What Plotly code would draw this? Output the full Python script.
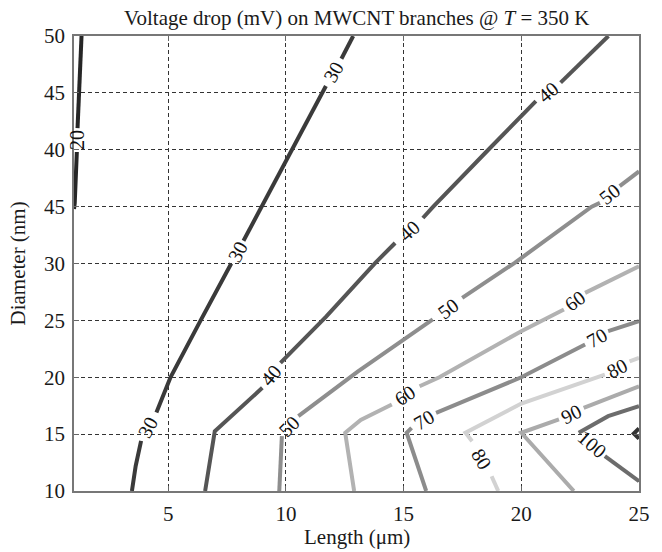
import plotly.graph_objects as go

# Contour paths of the voltage drop (mV) over length (um) and diameter (nm).
# None breaks each path where its inline level label sits.
levels = [20, 30, 40, 50, 60, 70, 80, 90, 100, 110]

c20_x = [1.32, 1.25, 1.20, 1.15, None, 1.12, 1.08, 1.03, 1.00]
c20_y = [50.0, 47.0, 45.0, 41.9, None, 39.8, 37.0, 35.3, 34.8]

c30_x = [3.46, 3.62, 3.85, None, 4.50, 5.10, 6.38, 7.68, None, 8.20, 8.98, 10.25, 11.56, 11.70, None, 12.36, 12.86]
c30_y = [10.0, 12.2, 14.4, None, 16.9, 20.0, 25.0, 30.0, None, 32.0, 35.0, 40.0, 45.0, 45.6, None, 48.0, 50.0]

c40_x = [6.57, 6.76, 6.98, 9.00, None, 9.77, 11.70, 13.80, 14.64, None, 15.82, 16.26, 18.60, 20.62, None, 21.67, 23.62, 23.70]
c40_y = [10.0, 12.5, 15.26, 19.07, None, 21.27, 25.3, 30.06, 31.8, None, 34.0, 35.0, 40.0, 44.27, None, 45.9, 49.84, 50.0]

c50_x = [9.72, 9.78, 9.83, None, 10.53, 13.05, 16.24, None, 17.49, 19.72, 22.99, 23.34, None, 24.18, 25.0]
c50_y = [10.0, 12.5, 14.82, None, 16.58, 20.5, 25.08, None, 26.98, 30.06, 35.0, 35.33, None, 36.8, 38.1]

c60_x = [12.90, 12.72, 12.52, 13.18, 14.50, None, 15.68, 16.52, 20.0, 21.81, None, 22.71, 25.0]
c60_y = [10.0, 12.5, 15.12, 16.25, 17.6, None, 19.21, 20.0, 24.05, 25.96, None, 27.42, 29.76]

c70_x = [15.96, 15.55, 15.13, 15.34, None, 16.38, 20.0, 22.71, None, 23.69, 25.0]
c70_y = [10.0, 12.5, 15.12, 15.55, None, 16.87, 20.0, 22.88, None, 24.05, 24.93]

c80_x = [19.02, 18.74, None, 17.91, 17.63, 20.0, 23.55, None, 24.60, 25.0]
c80_y = [10.0, 11.3, None, 14.38, 15.12, 17.69, 20.24, None, 21.4, 21.7]

c90_x = [22.23, 21.04, 20.0, 21.60, None, 22.65, 25.0]
c90_y = [10.0, 12.77, 15.12, 16.29, None, 17.31, 19.21]

c100_x = [25.0, 23.69, 22.44, None, 23.55, 25.0]
c100_y = [17.46, 16.58, 15.12, None, 13.06, 10.86]

c110_x = [25.0, 24.78, 25.0]
c110_y = [15.5, 15.05, 14.6]

level_colors = ["#262626", "#3a3a3a", "#555555", "#8e8e8e", "#b2b2b2",
                "#8c8c8c", "#d2d2d2", "#ababab", "#6c6c6c", "#333333"]

# Inline contour labels
label_text = ["20", "30", "30", "30", "40", "40", "40", "50", "50", "50",
              "60", "60", "70", "70", "80", "80", "90", "100"]
label_x = [1.12, 4.15, 7.95, 12.03, 9.38, 15.22, 21.15, 10.15, 16.87, 23.76,
           15.08, 22.26, 15.85, 23.2, 18.32, 24.08, 22.12, 23.0]
label_y = [40.85, 15.6, 31.0, 46.8, 20.17, 32.9, 45.08, 15.72, 26.03, 36.07,
           18.4, 26.7, 16.25, 23.45, 12.85, 20.82, 16.8, 14.1]
label_angle = [-90, -62, -62, -60, -50, -42, -40, -45, -36, -38,
               -34, -36, -31, -29, 60, -27, -26, 41]

# Axis ticks
x_ticks = [5, 10, 15, 20, 25]
y_ticks = [10, 15, 20, 25, 30, 35, 40, 45, 50]
y_ticktext = ["10", "15", "20", "25", "30", "45", "40", "45", "50"]

paths = [(c20_x, c20_y), (c30_x, c30_y), (c40_x, c40_y), (c50_x, c50_y),
         (c60_x, c60_y), (c70_x, c70_y), (c80_x, c80_y), (c90_x, c90_y),
         (c100_x, c100_y), (c110_x, c110_y)]

serif = "Liberation Serif, Times New Roman, serif"

fig = go.Figure()
for lvl, (xs, ys), col in zip(levels, paths, level_colors):
    fig.add_trace(go.Scatter(
        x=xs, y=ys, mode="lines", name=str(lvl),
        line=dict(color=col, width=4), connectgaps=False,
        hoverinfo="skip", showlegend=False,
    ))

for t, lx, ly, ang in zip(label_text, label_x, label_y, label_angle):
    fig.add_annotation(x=lx, y=ly, text=t, showarrow=False, textangle=ang,
                       xanchor="center", yanchor="middle",
                       font=dict(family=serif, size=20, color="#111"))

axis_common = dict(
    showgrid=True, gridcolor="#333333", gridwidth=1.3, griddash="4px,3px",
    showline=True, linecolor="#777777", linewidth=1.5, mirror="ticks",
    ticks="inside", ticklen=5, tickcolor="#666666",
    tickfont=dict(family=serif, size=21, color="#1a1a1a"),
    zeroline=False,
)

fig.update_xaxes(range=[1, 25], tickvals=x_ticks, ticklabelstandoff=3, **axis_common)
fig.update_yaxes(range=[10, 50], tickvals=y_ticks, ticktext=y_ticktext,
                 ticklabelstandoff=3, **axis_common)

fig.add_annotation(xref="paper", yref="paper", x=0.5, y=1, yshift=18,
                   text="Voltage drop (mV) on MWCNT branches @ <i>T</i> = 350 K",
                   showarrow=False, xanchor="center", yanchor="middle",
                   font=dict(family=serif, size=21, color="#1a1a1a"))
fig.add_annotation(xref="paper", yref="paper", x=0.5, y=0, yshift=-46,
                   text="Length (μm)", showarrow=False,
                   xanchor="center", yanchor="middle",
                   font=dict(family=serif, size=21, color="#1a1a1a"))
fig.add_annotation(xref="paper", yref="paper", x=0, y=0.5, xshift=-57,
                   text="Diameter (nm)", showarrow=False, textangle=-90,
                   xanchor="center", yanchor="middle",
                   font=dict(family=serif, size=21, color="#1a1a1a"))

fig.update_layout(
    width=662, height=552,
    margin=dict(l=74, r=14, t=36, b=61),
    paper_bgcolor="white", plot_bgcolor="white",
    showlegend=False,
)

fig.write_html("out.html")
